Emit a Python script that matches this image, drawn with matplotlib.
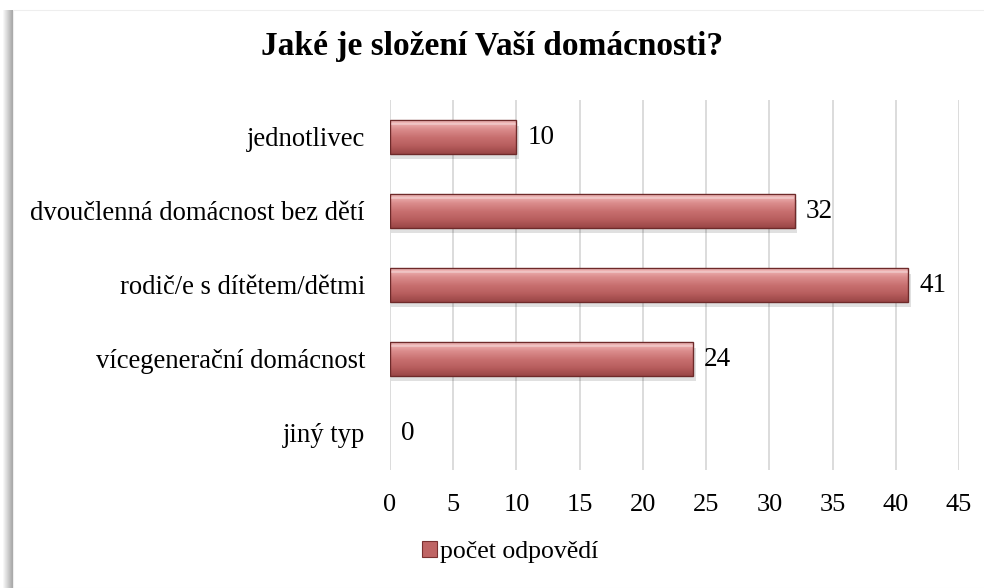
import matplotlib.pyplot as plt
import numpy as np
from matplotlib.patches import Rectangle, Patch
from matplotlib.colors import LinearSegmentedColormap

plt.rcParams['font.family'] = ['Liberation Serif', 'DejaVu Serif']

# Data
categories = ['jednotlivec', 'dvoučlenná domácnost bez dětí', 'rodič/e s dítětem/dětmi',
              'vícegenerační domácnost', 'jiný typ']
values = [10, 32, 41, 24, 0]
series_name = 'počet odpovědí'
title = 'Jaké je složení Vaší domácnosti?'
xticks = [0, 5, 10, 15, 20, 25, 30, 35, 40, 45]

fig = plt.figure(figsize=(9.84, 5.88), dpi=100)

# chart frame with soft left shadow
for i in range(10):
    fig.patches.append(Rectangle((3 / 984 + i / 984, 0), 1 / 984, 1 - 10 / 588,
                                 transform=fig.transFigure, facecolor='black',
                                 alpha=0.03 + 0.035 * i, edgecolor='none', zorder=-10))
fig.patches.append(Rectangle((13 / 984, 0), 1, 1 - 10 / 588, transform=fig.transFigure,
                             facecolor='white', edgecolor='#eeeeee', lw=0.8, zorder=-9))

ax = fig.add_axes([390 / 984, 1 - 470 / 588, 569 / 984, 370 / 588])
ax.set_facecolor('none')

bar_cmap = LinearSegmentedColormap.from_list(
    'bevel', ['#f4c0c0', '#dc8e8e', '#c87070', '#b85e5e', '#9a4646'])
grad = np.linspace(0, 1, 64).reshape(-1, 1)

h = 0.45
ypos = np.arange(len(categories))
for y, v in zip(ypos, values):
    if v <= 0:
        continue
    # soft shadow under the bar
    ax.add_patch(Rectangle((0.1, y - h / 2 + 0.07), v + 0.1, h, facecolor='black',
                           alpha=0.12, edgecolor='none', zorder=2))
    ax.imshow(grad, extent=(0, v, y + h / 2, y - h / 2), cmap=bar_cmap,
              aspect='auto', zorder=3, interpolation='bicubic')
    ax.add_patch(Rectangle((0, y - h / 2), v, h, facecolor='none',
                           edgecolor='#6e2a2a', lw=1.0, zorder=4))
    # bevel highlight line
    ax.plot([0.15, v - 0.15], [y - h / 2 + 0.05, y - h / 2 + 0.05], color='white',
            alpha=0.35, lw=1.2, zorder=4)

for y, v in zip(ypos, values):
    ax.text(v + 0.85, y, str(v), va='center', ha='left', fontsize=19.5, color='black')

ax.set_xlim(0, 45)
ax.set_ylim(len(categories) - 0.5, -0.5)
ax.set_xticks(xticks)
ax.set_xticklabels([str(t) for t in xticks], fontsize=19)
ax.set_yticks(ypos)
ax.set_yticklabels(categories, fontsize=19.2)
ax.tick_params(length=0)
ax.tick_params(axis='x', pad=17)
ax.tick_params(axis='y', pad=18)
ax.xaxis.grid(True, color='#d9d9d9', lw=1.3)
ax.set_axisbelow(True)
for s in ax.spines.values():
    s.set_visible(False)

fig.text(0.5, 1 - 47 / 588, title, ha='center', va='center', fontsize=24, fontweight='bold')

handle = Patch(facecolor='#bf6464', edgecolor='#7a3030', lw=0.8)
fig.legend([handle], [series_name], loc='center', bbox_to_anchor=(510 / 984, 1 - 552 / 588),
           frameon=False, fontsize=18.5, handlelength=0.6, handleheight=0.6, handletextpad=0.1)

fig.savefig('out.png', dpi=100)
